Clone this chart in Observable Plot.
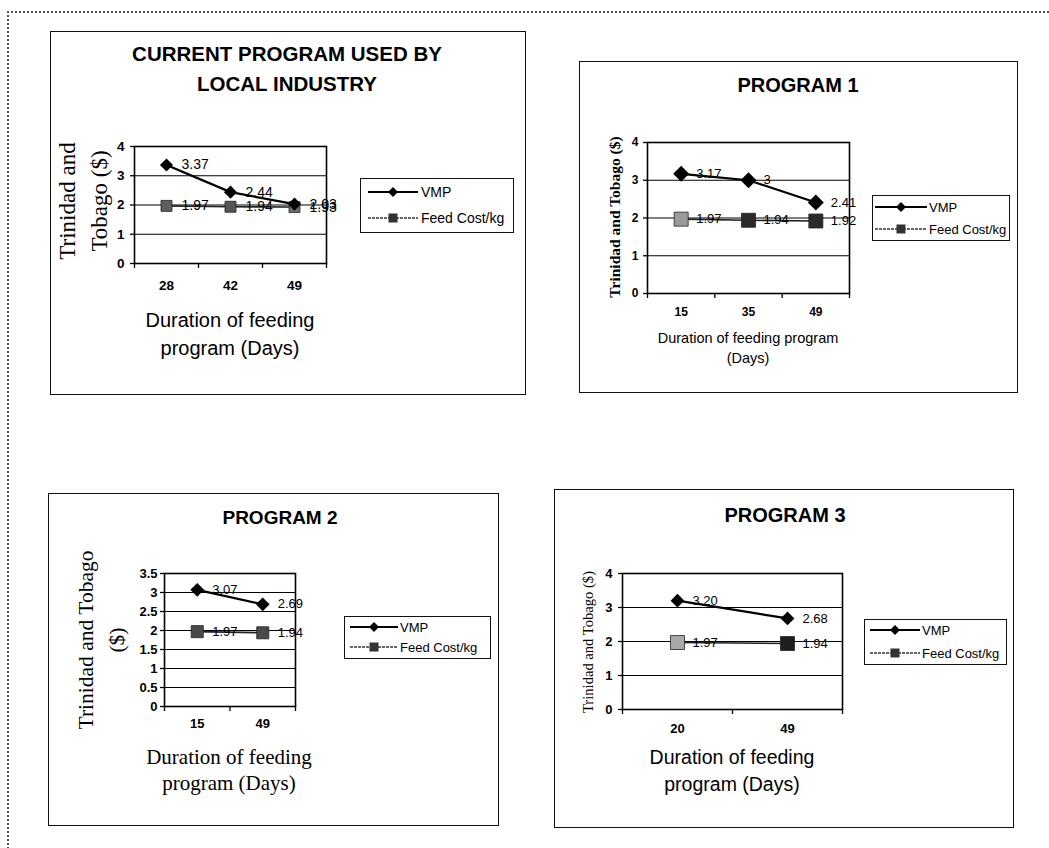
<!DOCTYPE html>
<html>
<head>
<meta charset="utf-8">
<script src="https://cdn.jsdelivr.net/npm/d3@7"></script>
<script src="https://cdn.jsdelivr.net/npm/@observablehq/plot@0.6"></script>
<style>
  html, body { margin: 0; background: #fff; overflow: hidden; }
  #page { position: relative; width: 1049px; height: 848px; overflow: hidden; background: #fff;
          font-family: "Liberation Sans", Arial, sans-serif; color: #000; }
  .outer { position: absolute; left: 7px; top: 11px; width: 1200px; height: 1000px;
           border-top: 2px dotted #555; border-left: 2px dotted #555; }
  .box { position: absolute; border: 1.6px solid #111; box-sizing: border-box; }
  .txt { position: absolute; white-space: nowrap; text-align: center; line-height: 1; }
  .plot { position: absolute; }
  .legend { position: absolute; border: 1.5px solid #111; box-sizing: border-box; background: #fff; }
</style>
</head>
<body>
<div id="page"><div class="outer"></div></div>
<script>
// ---- data -------------------------------------------------------------
const currentDays = ["28", "42", "49"];
const currentVMP  = [3.37, 2.44, 2.03];
const currentFeed = [1.97, 1.94, 1.93];

const p1Days = ["15", "35", "49"];
const p1VMP  = [3.17, 3, 2.41];
const p1Feed = [1.97, 1.94, 1.92];

const p2Days = ["15", "49"];
const p2VMP  = [3.07, 2.69];
const p2Feed = [1.97, 1.94];

const p3Days = ["20", "49"];
const p3VMP  = [3.20, 2.68];
const p3Feed = [1.97, 1.94];

const yTicksWhole = [0, 1, 2, 3, 4];
const yTicksHalf  = [0, 0.5, 1, 1.5, 2, 2.5, 3, 3.5];

const seriesNames = ["VMP", "Feed Cost/kg"];
const panelTitles = [["CURRENT PROGRAM USED BY", "LOCAL INDUSTRY"], ["PROGRAM 1"], ["PROGRAM 2"], ["PROGRAM 3"]];

// ---- layout / styling of each panel ----------------------------------
const SANS = '"Liberation Sans", Arial, sans-serif';
const SERIF = '"Liberation Serif", "Times New Roman", serif';

const panels = [
  {
    days: currentDays, vmp: currentVMP, feed: currentFeed, yTicks: yTicksWhole, fmt: d => String(d),
    box: [50, 31, 526, 395], frame: [134, 146, 326, 263],
    tickFont: 13.5, yPad: 6, xPad: 17, diamondR: 5.9, squareR: 6.2, labelFont: 14,
    squareFill: ["#5e5e5e", "#555555", "#6e6e6e"],
    title: { lines: panelTitles[0], cx: 287, cy: 69, size: 20.5, lh: 30 },
    yTitle: { lines: ["Trinidad and", "Tobago ($)"], cx: 84, cy: 201, size: 23, lh: 32, font: SERIF, weight: "normal" },
    xTitle: { lines: ["Duration of feeding", "program (Days)"], cx: 230, cy: 334, size: 20, lh: 28, font: SANS, weight: "normal" },
    legend: { x: 360, y: 178, w: 154, h: 55, rows: [192, 218], lineX: [368, 418], textX: 421, size: 14 }
  },
  {
    days: p1Days, vmp: p1VMP, feed: p1Feed, yTicks: yTicksWhole, fmt: d => String(d),
    box: [579, 61, 1018, 393], frame: [647, 142, 849, 293],
    tickFont: 12, yPad: 5, xPad: 14, diamondR: 7.2, squareR: 7.9, labelFont: 13,
    squareFill: ["#9a9a9a", "#2a2a2a", "#2a2a2a"],
    title: { lines: panelTitles[1], cx: 798, cy: 85, size: 20, lh: 24 },
    yTitle: { lines: ["Trinidad and Tobago ($)"], cx: 615, cy: 217, size: 15.5, lh: 18, font: SERIF, weight: "bold" },
    xTitle: { lines: ["Duration of feeding program", "(Days)"], cx: 748, cy: 348, size: 14.5, lh: 20, font: SANS, weight: "normal" },
    legend: { x: 872, y: 195, w: 138, h: 46, rows: [207, 229], lineX: [875, 927], textX: 929, size: 13 }
  },
  {
    days: p2Days, vmp: p2VMP, feed: p2Feed, yTicks: yTicksHalf, fmt: d => String(d),
    box: [48, 493, 499, 826], frame: [164, 573, 295, 706],
    tickFont: 13, yPad: 3, xPad: 12, diamondR: 6.2, squareR: 6.8, labelFont: 13,
    squareFill: ["#4a4a4a", "#4a4a4a"],
    title: { lines: panelTitles[2], cx: 280, cy: 518, size: 19, lh: 24 },
    yTitle: { lines: ["Trinidad and Tobago", "($)"], cx: 102, cy: 640, size: 21.5, lh: 31, font: SERIF, weight: "normal" },
    xTitle: { lines: ["Duration of feeding", "program (Days)"], cx: 229, cy: 770, size: 21, lh: 26, font: SERIF, weight: "normal" },
    legend: { x: 344, y: 616, w: 147, h: 43, rows: [627, 647], lineX: [350, 398], textX: 400, size: 13 }
  },
  {
    days: p3Days, vmp: p3VMP, feed: p3Feed, yTicks: yTicksWhole, fmt: d3.format(".2f"),
    box: [554, 489, 1014, 828], frame: [622, 573, 842, 709],
    tickFont: 13, yPad: 6, xPad: 14, diamondR: 6.2, squareR: 7.9, labelFont: 13,
    squareFill: ["#a8a8a8", "#1e1e1e"],
    title: { lines: panelTitles[3], cx: 785, cy: 515, size: 20, lh: 24 },
    yTitle: { lines: ["Trinidad and Tobago ($)"], cx: 588, cy: 642, size: 14.6, lh: 18, font: SERIF, weight: "normal" },
    xTitle: { lines: ["Duration of feeding", "program (Days)"], cx: 732, cy: 771, size: 19.5, lh: 27, font: SANS, weight: "normal" },
    legend: { x: 864, y: 619, w: 143, h: 46, rows: [630, 653], lineX: [870, 920], textX: 922, size: 13 }
  }
];

const page = document.getElementById("page");
const M = { left: 40, top: 12, right: 40, bottom: 36 };

function addText(t, family, weight, rotate) {
  const div = document.createElement("div");
  div.className = "txt";
  div.style.fontFamily = family;
  div.style.fontWeight = weight;
  div.style.fontSize = t.size + "px";
  div.style.lineHeight = t.lh + "px";
  div.style.left = t.cx + "px";
  div.style.top = t.cy + "px";
  div.style.transform = "translate(-50%, -50%)" + (rotate ? " rotate(-90deg)" : "");
  div.innerHTML = t.lines.map(s => s.replace(/&/g, "&amp;")).join("<br>");
  page.appendChild(div);
}

function addLegend(p) {
  const L = p.legend;
  const box = document.createElement("div");
  box.className = "legend";
  Object.assign(box.style, { left: L.x + "px", top: L.y + "px", width: L.w + "px", height: L.h + "px" });
  page.appendChild(box);
  const svg = d3.select(page).append("svg")
    .attr("width", 1049).attr("height", 848)
    .style("position", "absolute").style("left", 0).style("top", 0).style("pointer-events", "none");
  const mid = (L.lineX[0] + L.lineX[1]) / 2;
  seriesNames.forEach((name, k) => {
    const y = L.rows[k];
    svg.append("line").attr("x1", L.lineX[0]).attr("x2", L.lineX[1]).attr("y1", y).attr("y2", y)
      .attr("stroke", k === 0 ? "#000" : "#333").attr("stroke-width", k === 0 ? 2.2 : 1.6)
      .attr("stroke-dasharray", k === 0 ? null : "3 1");
    if (k === 0) {
      svg.append("path").attr("d", `M${mid},${y - 5}L${mid + 5},${y}L${mid},${y + 5}L${mid - 5},${y}Z`).attr("fill", "#000");
    } else {
      svg.append("rect").attr("x", mid - 4.5).attr("y", y - 4.5).attr("width", 9).attr("height", 9).attr("fill", "#333");
    }
    svg.append("text").attr("x", L.textX).attr("y", y).attr("dy", "0.35em")
      .attr("font-family", SANS).attr("font-size", L.size).text(name);
  });
}

function addPanel(p) {
  // panel border
  const b = document.createElement("div");
  b.className = "box";
  Object.assign(b.style, { left: p.box[0] + "px", top: p.box[1] + "px",
    width: (p.box[2] - p.box[0]) + "px", height: (p.box[3] - p.box[1]) + "px" });
  page.appendChild(b);

  const n = p.days.length;
  const vmpRows = p.days.map((day, i) => ({ i, day, v: p.vmp[i] }));
  const feedRows = p.days.map((day, i) => ({ i, day, v: p.feed[i] }));
  const pos = r => r.i + 0.5;
  const yMax = p.yTicks[p.yTicks.length - 1];
  const [fx0, fy0, fx1, fy1] = p.frame;

  const chart = Plot.plot({
    width: fx1 - fx0 + M.left + M.right,
    height: fy1 - fy0 + M.top + M.bottom,
    marginLeft: M.left, marginRight: M.right, marginTop: M.top, marginBottom: M.bottom,
    style: { fontFamily: SANS, background: "transparent", overflow: "visible" },
    x: { domain: [0, n], label: null },
    y: { domain: [0, yMax], label: null },
    color: { type: "identity" },
    marks: [
      Plot.gridY(p.yTicks.filter(t => t > 0 && t < yMax), { stroke: "#000", strokeOpacity: 1, strokeWidth: 1.2 }),
      Plot.frame({ stroke: "#000", strokeWidth: 1.6 }),
      Plot.axisY({ ticks: p.yTicks, tickSize: 4, tickPadding: p.yPad, tickFormat: d => String(d),
        fontSize: p.tickFont, fontWeight: "bold", label: null, strokeWidth: 1.3 }),
      Plot.axisX({ ticks: d3.range(n + 1), tickSize: 5, tickFormat: () => "", label: null, strokeWidth: 1.3 }),
      Plot.axisX({ ticks: d3.range(n).map(i => i + 0.5), tickSize: 0, tickPadding: p.xPad,
        tickFormat: t => p.days[Math.floor(t)], fontSize: p.tickFont, fontWeight: "bold", label: null }),
      Plot.line(feedRows, { x: pos, y: "v", stroke: "#222", strokeWidth: 1.6 }),
      Plot.line(vmpRows, { x: pos, y: "v", stroke: "#000", strokeWidth: 2.2 }),
      Plot.text(feedRows, { x: pos, y: "v", text: d => p.fmt(d.v), dx: 15, textAnchor: "start",
        fontSize: p.labelFont, fill: "#000" }),
      Plot.text(vmpRows, { x: pos, y: "v", text: d => p.fmt(d.v), dx: 15, textAnchor: "start",
        fontSize: p.labelFont, fill: "#000" }),
      Plot.dot(feedRows, { x: pos, y: "v", symbol: "square", r: p.squareR, fill: d => p.squareFill[d.i], stroke: "#222", strokeWidth: 0.8 }),
      Plot.dot(vmpRows, { x: pos, y: "v", symbol: "diamond2", r: p.diamondR, fill: "#000", stroke: "none" })
    ]
  });
  chart.classList.add("plot");
  chart.style.left = (fx0 - M.left) + "px";
  chart.style.top = (fy0 - M.top) + "px";
  page.appendChild(chart);

  addText(p.title, SANS, "bold", false);
  addText(p.yTitle, p.yTitle.font, p.yTitle.weight, true);
  addText(p.xTitle, p.xTitle.font, p.xTitle.weight, false);
  addLegend(p);
}

panels.forEach(addPanel);
</script>
</body>
</html>
